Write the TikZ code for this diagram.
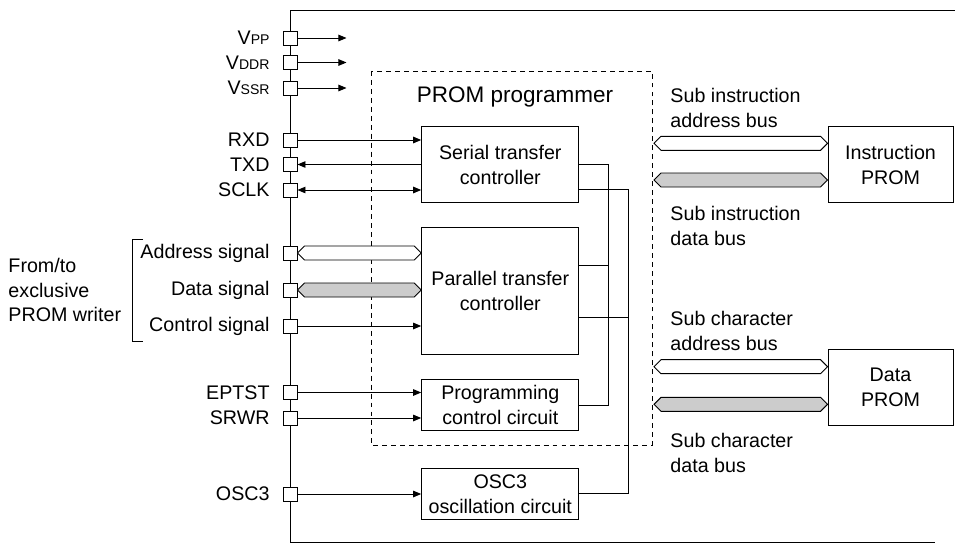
\documentclass[tikz,border=0pt]{standalone}
\usepackage{fontspec}
\setmainfont{Liberation Sans}
\usetikzlibrary{arrows.meta,calc}

\definecolor{busgray}{RGB}{204,204,204}

\newcommand{\low}[1]{{\fontsize{8}{9}\selectfont #1}}
\newcommand{\busarrow}[3][white]{%
  \filldraw[fill=#1] (#2) -- ++(7,-7) -- ($(#3)+(-7,-7)$) -- (#3)
    -- ++(-7,7) -- ($(#2)+(7,7)$) -- cycle;}

\tikzset{
  block/.style={draw, fill=white, align=center, inner sep=0pt, minimum width=3.146cm},
  padbox/.style={draw, fill=white, inner sep=0pt, minimum size=0.28cm},
  pinlbl/.style={inner sep=0pt, label distance=0.25cm},
  note/.style={align=left, inner sep=0pt, anchor=west},
  title/.style={inner sep=0pt, font=\fontsize{12.8}{15}\selectfont}
}

\begin{document}
\begin{tikzpicture}[x=0.02cm, y=-0.02cm, line width=0.55pt,
  font=\fontsize{11.2}{14.2}\selectfont,
  >={Triangle[length=1.6mm,width=1.3mm]}]
\useasboundingbox (0,0) rectangle (955,544);

% chip edge
\draw (955,10) -- (290,10) -- (290,542) -- (935,542);

% PROM programmer
\draw[dash pattern=on 2.8pt off 2.3pt] (371,71) rectangle (652,445);
\node[title] (progtitle) at (515,97) {PROM programmer};

\node[block, minimum height=1.512cm] (serial) at (500.3,164.5) {Serial transfer\\controller};
\node[block, minimum height=2.532cm] (parallel) at (500.3,291) {Parallel transfer\\controller};
\node[block, minimum height=1.014cm] (pgmctl) at (500.3,405.3) {Programming\\control circuit};
\node[block, minimum height=1.02cm] (osc) at (500.3,493.8) {OSC3\\oscillation circuit};

\node[block, minimum width=2.5cm, minimum height=1.512cm] (iprom) at (890.5,164.5) {Instruction\\PROM};
\node[block, minimum width=2.5cm, minimum height=1.512cm] (dprom) at (890.5,387.2) {Data\\PROM};

% pins
\foreach \name/\y/\txt in {vpp/38/V\low{PP}, vddr/62.5/V\low{DDR}, vssr/88/V\low{SSR},
    rxd/140/RXD, txd/164.5/TXD, sclk/190/SCLK,
    addr/253/Address signal, data/290/Data signal, ctrl/326/Control signal,
    eptst/392.5/EPTST, srwr/418/SRWR, osc3/494/OSC3}
  \node[padbox, label={[pinlbl]left:\txt}] (\name) at (290,\y) {};

\foreach \name in {vpp, vddr, vssr}
  \draw[->] (\name.east) -- +(49,0);

\draw[->] (rxd.east) -- (serial.west |- rxd);
\draw[->] (serial.west |- txd) -- (txd.east);
\draw[<->] (sclk.east) -- (serial.west |- sclk);
\draw[->] (ctrl.east) -- (parallel.west |- ctrl);
\draw[->] (eptst.east) -- (pgmctl.west |- eptst);
\draw[->] (srwr.east) -- (pgmctl.west |- srwr);
\draw[->] (osc3.east) -- (osc.west |- osc3);

\busarrow{addr.east}{parallel.west |- addr}
\busarrow[busgray]{data.east}{parallel.west |- data}

% internal lines
\coordinate (busA) at (608,0);
\coordinate (busB) at (628,0);
\coordinate (serB) at ($(serial.east)+(0,25.2)$);
\coordinate (parA) at ($(parallel.east)+(0,-25.3)$);
\coordinate (parB) at ($(parallel.east)+(0,26)$);
\draw (serial.east) -| (busA |- pgmctl.east) -- (pgmctl.east);
\draw (parA) -- (busA |- parA);
\draw (serB) -| (busB |- osc.east) -- (osc.east);
\draw (parB) -- (busB |- parB);

% sub buses
\coordinate (iaddr) at (654,143.3);
\coordinate (idata) at (654,180);
\coordinate (caddr) at (654,366.7);
\coordinate (cdata) at (654,404.3);
\busarrow{iaddr}{iprom.west |- iaddr}
\busarrow[busgray]{idata}{iprom.west |- idata}
\busarrow{caddr}{dprom.west |- caddr}
\busarrow[busgray]{cdata}{dprom.west |- cdata}

\node[note] (iaddrlbl) at (670,108) {Sub instruction\\address bus};
\node[note] (idatalbl) at (670,225.5) {Sub instruction\\data bus};
\node[note] (caddrlbl) at (670,330.5) {Sub character\\address bus};
\node[note] (cdatalbl) at (670,452.5) {Sub character\\data bus};

% writer side
\node[note] (writer) at (8,290) {From/to\\exclusive\\PROM writer};
\draw (143,239) -- (132,239) -- (132,341) -- (143,341);
\end{tikzpicture}
\end{document}
